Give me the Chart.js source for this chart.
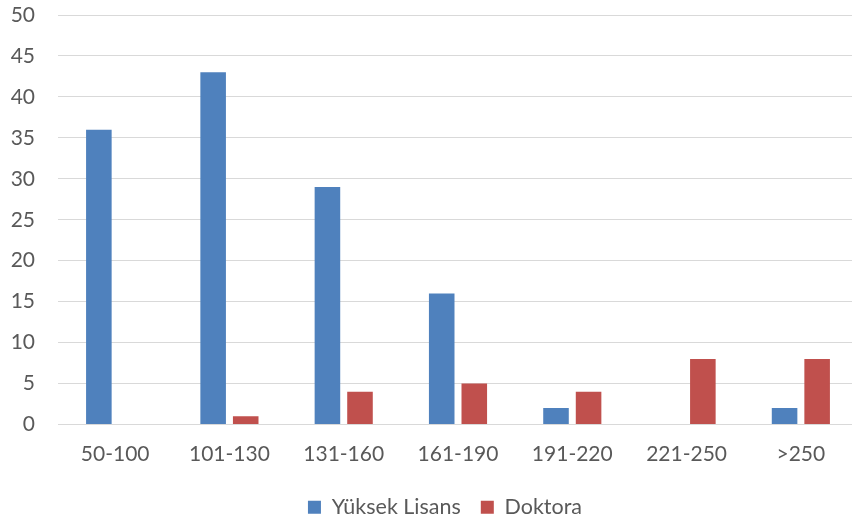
<!DOCTYPE html>
<html>
<head>
<meta charset="utf-8">
<script src="https://cdn.jsdelivr.net/npm/chart.js@4"></script>
<style>
  html, body { margin: 0; padding: 0; background: #fff; overflow: hidden; }
  #wrap { width: 852px; height: 523px; overflow: hidden; }
</style>
</head>
<body>
<div id="wrap"><canvas id="myChart" width="890" height="523"></canvas></div>
<script>
var categories = ['50-100', '101-130', '131-160', '161-190', '191-220', '221-250', '>250'];
var yuksekLisans = [36, 43, 29, 16, 2, 0, 2];
var doktora = [0, 1, 4, 5, 4, 8, 8];
var seriesNames = ['Yüksek Lisans', 'Doktora'];

// nudge the legend so it sits centred like the original
var legendShift = {
  id: 'legendShift',
  afterLayout: function(chart) {
    chart.legend.left += 32;
  }
};

var ctx = document.getElementById('myChart').getContext('2d');
var myChart = new Chart(ctx, {
  type: 'bar',
  data: {
    labels: categories,
    datasets: [{
      label: seriesNames[0],
      data: yuksekLisans,
      backgroundColor: '#4F81BD',
      categoryPercentage: 0.57,
      barPercentage: 0.785
    }, {
      label: seriesNames[1],
      data: doktora,
      backgroundColor: '#C0504D',
      categoryPercentage: 0.57,
      barPercentage: 0.785
    }]
  },
  options: {
    responsive: false,
    animation: false,
    layout: { padding: { top: 15, right: 32, bottom: -5, left: 0 } },
    plugins: {
      tooltip: { enabled: false },
      legend: {
        position: 'bottom',
        labels: {
          boxWidth: 13,
          boxHeight: 13,
          padding: 20,
          color: '#595959',
          font: { family: 'Lato', size: 21.5 }
        }
      }
    },
    scales: {
      x: {
        grid: { display: false, drawTicks: false },
        border: { display: false },
        ticks: { color: '#595959', padding: 17, font: { family: 'Lato', size: 21 } },
        afterFit: function(scale) { scale.height = 52; }
      },
      y: {
        min: 0,
        max: 50,
        grid: { color: '#d9d9d9', lineWidth: 1, drawTicks: false },
        border: { display: false },
        ticks: { stepSize: 5, color: '#595959', padding: 23, font: { family: 'Lato', size: 21 } },
        afterFit: function(scale) {
          scale.width = 58;
          scale.paddingTop = 0;
          scale.paddingBottom = 0;
        }
      }
    }
  },
  plugins: [legendShift]
});
</script>
</body>
</html>
